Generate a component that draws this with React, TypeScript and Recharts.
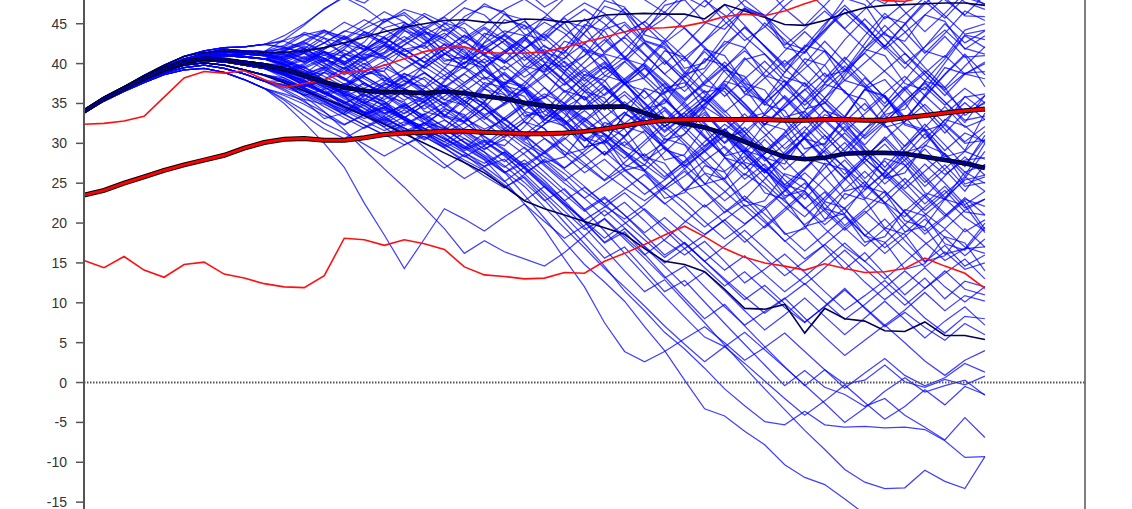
import { LineChart, Line, XAxis, YAxis, ReferenceLine } from "recharts";

// forecast step index (x) and y ticks
const periods = [
  0, 1, 2, 3, 4, 5, 6, 7, 8, 9, 10, 11, 12, 13, 14, 15, 16, 17, 18, 19, 20, 21, 22,
  23, 24, 25, 26, 27, 28, 29, 30, 31, 32, 33, 34, 35, 36, 37, 38, 39, 40, 41, 42, 43,
  44, 45
];
const yTicks = [-15, -10, -5, 0, 5, 10, 15, 20, 25, 30, 35, 40, 45];

// summary lines
const navyMedian = [34.0,35.6,36.9,38.2,39.3,40.2,40.6,40.5,40.1,39.8,39.3,38.5,37.7,37.0,36.6,36.4,36.4,36.3,36.5,36.3,35.9,35.6,35.1,34.7,34.5,34.5,34.6,34.6,33.8,33.0,32.5,32.0,31.2,30.2,29.2,28.3,28.0,28.2,28.7,28.8,28.8,28.7,28.3,27.9,27.5,26.9];
const navyUpper = [34.2,35.8,37.1,38.5,39.8,40.9,41.4,41.6,41.5,41.4,41.4,41.6,42.0,42.6,43.3,44.0,44.6,45.0,45.4,45.5,45.2,45.1,45.6,45.5,45.2,45.4,46.1,46.2,46.3,46.2,46.2,45.6,47.4,46.6,45.8,44.9,44.8,45.4,46.3,47.0,47.3,47.4,47.5,47.6,47.6,47.3];
const navyLower = [33.8,35.4,36.7,37.9,39.0,39.8,40.1,39.8,39.2,38.5,37.6,36.6,35.6,34.6,33.5,32.4,31.2,30.0,28.8,27.6,26.3,24.6,22.8,21.8,21.0,20.2,19.4,18.6,16.8,15.2,14.8,13.9,11.7,9.3,9.2,9.8,6.2,9.3,8.0,7.7,6.5,6.4,7.6,5.9,5.9,5.4];
const redMean = [23.5,24.1,25.0,25.8,26.6,27.3,27.9,28.5,29.4,30.1,30.5,30.6,30.4,30.4,30.7,31.1,31.3,31.4,31.5,31.5,31.4,31.3,31.2,31.2,31.3,31.5,31.8,32.2,32.6,32.9,33.0,33.0,33.0,33.0,33.0,32.9,32.9,33.0,33.0,32.9,32.9,33.2,33.5,33.8,34.1,34.3];
const redUpper = [32.4,32.5,32.8,33.4,35.8,38.2,39.0,38.8,39.1,38.0,37.0,37.5,37.9,38.9,39.1,39.8,40.6,41.5,42.0,42.1,41.4,41.3,41.3,41.5,42.0,42.7,43.3,44.0,44.4,44.5,44.7,45.2,45.9,46.2,46.0,46.6,47.5,48.3,48.8,48.5,47.9,47.8,48.4,49.0,49.5,50.0];
const redLower = [15.3,14.4,15.8,14.1,13.2,14.8,15.1,13.6,13.1,12.4,12.0,11.9,13.4,18.1,17.9,17.2,17.9,17.4,16.7,14.5,13.5,13.3,13.0,13.1,13.8,13.7,15.2,16.2,17.3,18.5,19.6,18.3,16.8,15.7,15.0,14.6,14.1,14.9,14.3,13.8,13.9,14.3,15.6,14.6,13.7,11.8];

// simulated paths
const highPaths = [
  [34.2,35.8,37.1,38.5,39.8,40.9,41.6,42.0,42.1,42.4,43.5,45.0,46.8,48.5,47.6,49.5,51.0,50.2,52.4,53.8,52.0,50.6,52.5,54.8,53.6,51.9,53.4,55.2,54.0,52.3,50.9,53.1,55.4,54.2,52.5,50.8,52.9,54.6,53.2,51.4,53.8,55.6,54.1,52.7,54.3,52.0],
  [34.0,35.6,37.0,38.3,39.5,40.5,41.3,41.8,41.6,41.5,43.0,44.8,46.9,48.3,47.0,45.2,46.4,44.5,45.9,47.8,49.6,51.0,49.2,47.1,48.5,50.7,52.0,50.1,48.0,46.4,48.9,51.5,49.8,47.2,45.9,48.1,50.6,52.8,51.0,48.7,47.5,49.9,52.2,50.4,48.6,50.1],
  [34.1,35.7,37.0,38.4,39.6,40.6,41.2,41.4,41.3,41.2,42.0,41.3,42.6,44.1,43.5,45.2,46.8,46.0,44.1,45.3,47.5,46.2,44.3,45.8,48.2,50.1,48.9,46.5,44.0,45.7,48.4,47.1,49.5,51.8,49.6,46.9,44.8,47.3,50.0,48.2,45.6,47.7,50.3,48.0,46.1,48.6],
  [34.0,35.6,36.8,38.1,39.3,40.3,40.9,41.1,41.2,41.0,41.6,42.9,44.2,43.1,44.8,46.5,45.2,43.6,44.9,47.0,46.1,43.8,41.9,43.4,45.9,47.6,46.3,43.9,45.2,47.8,50.0,48.1,45.3,42.9,44.6,47.2,49.3,47.0,44.4,46.8,49.1,46.5,44.0,46.3,48.9,47.4],
  [34.2,35.8,37.1,38.5,39.8,40.9,41.6,42.0,42.1,42.4,42.8,41.9,43.5,45.2,44.0,42.6,44.4,46.3,45.1,43.2,44.9,46.8,48.1,46.4,44.3,42.5,44.6,46.9,44.8,42.4,40.3,42.9,45.7,48.0,46.0,43.6,41.4,44.0,46.9,44.6,42.2,45.0,47.8,45.7,48.3,47.5],
  [34.1,35.7,37.0,38.4,39.6,40.6,41.2,41.4,41.3,41.2,40.8,41.9,40.5,42.1,43.7,42.4,44.3,45.9,44.6,42.8,41.1,42.9,44.8,43.2,45.1,46.8,45.0,42.6,40.3,42.9,45.6,47.9,46.1,43.4,41.2,38.9,41.5,44.3,46.9,44.8,42.1,44.9,47.5,49.6,47.7,46.8],
  [34.1,35.6,36.9,38.2,39.4,40.4,41.0,41.2,40.9,40.6,41.2,40.1,41.8,43.5,42.2,40.6,42.4,44.0,42.8,41.1,39.6,41.5,43.4,45.2,43.8,41.5,39.3,41.6,44.3,46.5,44.4,41.9,39.5,42.0,45.1,43.0,40.1,37.6,40.4,43.5,46.3,44.0,41.3,43.8,46.6,45.4],
  [34.1,35.7,36.9,38.3,39.4,40.4,40.9,41.0,40.8,40.6,40.1,41.3,40.0,38.8,40.5,42.3,41.1,39.4,41.2,43.0,44.6,43.0,41.3,39.2,41.5,43.9,46.0,43.9,41.2,38.7,36.5,39.0,42.0,44.6,42.2,39.6,42.1,45.0,47.3,44.9,42.0,39.4,42.1,45.0,42.6,44.1],
  [34.0,35.6,36.8,38.1,39.3,40.3,40.9,41.1,41.2,41.0,41.5,42.6,41.3,39.9,41.6,43.4,44.8,43.5,41.7,40.0,41.8,43.6,42.0,40.1,37.9,40.2,42.6,44.9,42.5,39.9,42.4,45.0,47.4,44.8,42.1,39.4,37.1,39.8,43.0,45.6,43.1,40.2,37.8,40.6,43.6,43.0],
  [34.0,35.6,36.9,38.2,39.3,40.2,40.7,40.6,40.3,40.0,39.6,40.7,39.3,37.9,39.6,41.2,42.8,41.3,39.5,37.6,39.4,41.3,43.2,41.2,43.4,45.6,43.3,40.9,38.5,36.2,38.8,41.5,39.0,36.4,38.9,41.6,44.0,41.7,39.0,41.9,44.8,42.3,39.5,37.0,39.7,42.1],
  [34.0,35.5,36.8,38.1,39.2,40.0,40.4,40.2,39.8,39.4,39.0,38.1,39.4,40.9,39.5,37.8,39.3,40.8,39.1,37.2,35.3,37.4,39.7,41.8,39.6,37.3,35.1,37.6,40.1,42.6,44.5,42.1,39.5,37.1,34.8,37.4,40.0,42.8,40.2,37.5,35.0,37.9,40.9,43.4,40.8,41.0],
  [34.0,35.6,37.0,38.3,39.5,40.5,41.3,41.8,41.6,41.5,41.8,42.7,41.5,40.2,41.7,43.2,41.8,40.1,41.8,43.6,42.0,40.1,41.9,43.9,45.7,43.6,41.5,43.4,45.3,43.1,40.8,42.8,44.9,47.0,44.7,42.3,44.4,46.6,44.3,41.9,44.0,46.2,48.3,46.0,43.7,44.2],
  [34.0,35.5,36.8,38.1,39.2,40.0,40.4,40.2,39.8,39.4,38.6,37.5,36.4,35.0,36.3,37.7,36.0,34.3,35.9,37.6,39.4,37.5,39.3,41.2,39.1,37.0,38.9,40.8,42.7,40.5,38.3,40.3,42.4,44.5,42.2,39.9,42.0,44.2,46.4,44.1,41.8,43.9,46.1,48.3,46.0,45.9],
  [34.1,35.7,37.0,38.4,39.6,40.6,41.2,41.4,41.3,41.2,40.7,41.8,40.7,39.3,40.7,42.2,40.6,38.9,37.1,38.8,40.6,38.6,36.6,38.4,40.3,38.2,36.0,37.9,39.8,37.6,35.4,37.4,39.5,41.6,39.3,37.0,34.8,36.9,39.1,41.3,39.0,36.7,38.8,41.0,38.7,38.1]
];

const midPaths = [
  [34.1,35.7,36.9,38.3,39.4,40.4,40.9,41.0,40.8,40.6,40.0,39.2,38.0,39.5,38.1,36.7,38.3,39.8,41.3,39.5,37.4,35.6,37.6,39.9,37.8,35.5,37.8,40.2,42.6,40.3,37.8,35.2,37.9,40.7,38.3,35.6,33.0,35.7,38.8,41.4,43.9,41.3,38.6,36.0,38.7,40.0],
  [33.9,35.5,36.7,37.9,39.1,40.0,40.5,40.4,40.0,39.5,38.8,37.6,38.9,37.4,35.9,37.3,38.8,37.2,35.4,37.3,39.2,37.1,35.0,32.9,35.1,37.4,39.6,37.4,35.1,32.8,35.2,37.8,40.2,37.9,35.3,32.8,35.4,38.1,40.8,38.4,35.7,33.1,35.9,38.7,41.2,38.6],
  [33.9,35.5,36.8,38.0,39.0,39.8,40.1,39.8,39.2,38.6,37.9,37.0,35.8,37.0,38.4,37.0,35.4,36.9,38.5,36.7,34.8,32.9,34.9,37.0,35.0,32.9,35.1,37.4,39.5,37.2,34.8,32.4,30.1,32.7,35.4,37.9,35.5,32.8,35.4,38.2,35.8,33.0,35.8,38.6,41.0,37.1],
  [34.0,35.6,36.9,38.2,39.3,40.2,40.7,40.6,40.3,40.0,39.1,38.2,37.0,35.9,36.9,38.2,36.7,35.1,33.5,35.3,37.1,38.9,36.8,34.6,32.5,34.6,36.9,34.6,32.2,30.0,32.4,34.9,37.3,34.9,32.3,34.9,37.6,35.1,32.4,29.8,32.5,35.2,37.7,35.2,32.6,36.0],
  [34.0,35.5,36.8,38.1,39.2,40.0,40.4,40.2,39.8,39.4,38.5,37.4,36.3,35.0,36.2,34.7,33.2,34.8,36.4,34.6,32.6,30.7,32.8,35.0,32.9,30.7,28.6,30.9,33.3,35.6,33.2,30.8,28.5,31.0,33.6,36.0,33.6,31.0,28.4,31.1,33.9,36.7,34.0,31.3,33.9,35.0],
  [34.1,35.6,36.9,38.2,39.4,40.4,41.0,41.2,40.9,40.6,39.8,38.7,39.6,38.2,36.9,35.5,36.8,38.3,36.7,34.9,33.0,35.0,37.1,35.0,32.8,30.7,28.6,30.8,33.1,35.4,33.1,30.7,28.3,26.0,28.7,31.4,34.0,31.6,29.0,31.7,34.5,37.1,34.5,31.8,29.1,33.8],
  [33.9,35.5,36.8,38.0,39.0,39.8,40.1,39.8,39.2,38.6,37.6,36.3,35.2,33.9,35.0,36.4,34.9,33.3,31.6,33.4,35.2,33.1,31.0,28.9,31.0,33.2,31.0,28.8,26.6,28.9,31.2,33.6,31.2,28.8,26.3,28.9,31.6,34.2,31.7,29.1,26.5,29.2,32.0,34.6,32.0,33.0],
  [33.9,35.4,36.6,37.8,38.8,39.5,39.8,39.4,38.7,37.8,37.0,36.1,34.6,33.2,31.9,33.1,34.6,33.0,31.2,29.4,31.3,33.2,31.1,29.0,26.9,29.0,31.2,29.0,26.7,24.5,26.8,29.1,31.5,29.1,26.6,24.1,26.8,29.5,32.1,29.6,27.0,29.7,32.4,29.8,27.1,31.0],
  [33.9,35.5,36.7,37.9,39.1,40.0,40.5,40.4,40.0,39.5,38.6,37.4,36.5,35.1,33.7,32.5,33.8,35.3,33.6,31.7,29.8,31.8,33.9,31.8,29.6,27.5,25.4,27.6,29.9,32.2,29.9,27.5,25.2,22.9,25.5,28.2,30.7,28.2,25.6,23.0,25.7,28.5,31.2,28.6,25.9,30.0],
  [34.1,35.7,36.9,38.3,39.4,40.4,40.9,41.0,40.8,40.6,39.9,39.0,37.6,36.4,37.5,36.1,34.6,33.0,34.6,36.2,34.4,32.4,30.4,32.4,34.6,32.4,30.3,28.1,30.3,32.6,30.3,27.9,25.5,27.9,30.5,27.9,25.3,22.8,25.4,28.1,30.8,28.2,25.5,22.9,25.6,29.0],
  [34.0,35.5,36.8,38.1,39.2,40.0,40.4,40.2,39.8,39.4,38.7,37.9,36.8,37.4,38.6,39.5,38.2,36.4,34.9,33.1,31.8,32.9,34.7,36.2,35.0,33.1,31.2,29.6,28.4,30.1,32.5,34.6,33.0,30.8,28.1,26.0,24.3,26.9,29.4,31.8,33.5,31.0,28.2,26.1,27.9,28.2],
  [34.0,35.6,36.9,38.2,39.3,40.2,40.7,40.6,40.3,40.0,39.4,38.6,37.2,36.5,35.1,33.8,34.7,36.0,37.3,36.1,34.5,32.0,30.2,28.7,30.5,32.8,31.1,29.0,27.3,25.5,27.8,30.2,32.4,30.6,28.1,25.4,23.0,25.6,27.9,25.2,22.6,20.8,23.3,25.9,28.3,26.0],
  [34.0,35.6,36.8,38.1,39.3,40.3,40.9,41.1,41.2,41.0,40.4,39.6,40.7,39.3,37.6,36.2,37.5,38.9,37.1,35.3,33.6,34.8,36.5,34.2,32.0,30.3,31.7,33.9,32.0,29.6,27.5,29.4,31.8,29.3,26.6,24.4,26.7,29.1,27.0,24.8,22.5,24.9,27.4,25.0,22.3,24.0],
  [33.9,35.5,36.8,38.0,39.0,39.8,40.1,39.8,39.2,38.6,37.9,36.8,35.6,34.4,33.5,34.6,33.2,31.5,30.2,31.9,33.4,31.7,29.9,28.3,26.9,28.6,30.4,28.7,26.5,24.2,25.9,27.8,29.6,27.3,25.0,22.7,20.8,23.2,25.7,28.1,26.0,23.6,21.2,19.3,21.6,23.0],
  [33.9,35.4,36.6,37.8,38.8,39.5,39.8,39.4,38.7,37.8,36.8,35.5,34.9,33.6,32.3,31.0,32.4,33.7,32.0,30.1,28.5,27.0,28.8,30.6,29.0,27.2,25.3,26.9,28.7,26.4,24.1,22.0,23.9,26.2,24.5,22.1,19.8,21.7,24.2,26.5,24.0,21.4,19.0,20.9,23.2,21.0],
  [33.9,35.5,36.7,37.9,39.1,40.0,40.5,40.4,40.0,39.5,38.7,37.8,36.4,35.0,33.9,32.4,31.0,32.5,34.1,32.6,30.8,29.1,27.3,28.9,30.7,28.5,26.2,24.4,22.8,24.6,26.5,24.1,21.8,19.9,21.7,24.0,26.3,24.1,21.7,19.2,16.9,18.8,21.0,23.1,20.7,19.0],
  [34.1,35.7,37.0,38.4,39.6,40.6,41.2,41.4,41.3,41.2,40.6,39.4,40.5,39.0,37.6,36.0,37.4,38.8,37.1,35.3,33.4,35.1,36.9,34.8,32.6,30.4,32.1,33.9,31.7,29.4,27.2,29.1,31.1,28.8,26.5,28.6,30.8,33.0,30.7,28.3,30.5,32.7,34.9,32.5,30.2,32.1],
  [34.0,35.6,37.0,38.3,39.5,40.5,41.3,41.8,41.6,41.5,41.1,40.2,41.5,40.0,38.4,36.9,38.4,36.6,34.8,36.5,38.3,36.2,34.1,35.9,33.7,31.5,33.3,35.2,33.0,30.8,32.7,34.8,36.9,34.6,32.3,34.5,36.7,38.8,36.5,34.1,36.3,38.4,36.0,33.7,35.8,36.2],
  [34.2,35.8,37.1,38.5,39.8,40.9,41.6,42.0,42.1,42.4,42.0,41.4,40.1,38.6,40.0,38.4,36.9,35.3,36.9,38.7,36.9,35.0,36.8,38.7,36.6,34.4,36.2,38.1,40.0,37.8,35.6,37.6,39.7,37.4,35.1,37.2,39.4,41.6,39.3,37.0,39.1,41.3,39.0,36.7,38.8,39.0],
  [34.0,35.6,36.9,38.2,39.3,40.2,40.7,40.6,40.3,40.0,39.4,38.7,37.5,36.2,37.6,36.0,34.3,35.7,37.2,35.3,33.3,31.4,33.1,35.0,32.9,30.7,28.5,30.2,28.0,25.8,27.7,29.7,31.8,29.5,27.1,24.8,26.9,29.1,31.3,28.9,26.6,24.3,26.5,28.7,26.4,27.3],
  [34.0,35.5,36.8,38.1,39.2,40.0,40.4,40.2,39.8,39.4,38.9,38.3,39.2,38.0,36.6,35.2,33.7,35.2,36.8,35.0,36.9,38.7,36.6,34.5,32.3,34.1,32.0,29.7,31.6,29.4,27.1,28.9,30.9,28.7,26.3,28.4,30.6,32.8,30.5,28.1,25.8,27.9,30.1,32.3,30.0,30.4],
  [33.9,35.5,36.7,37.9,39.1,40.0,40.5,40.4,40.0,39.5,38.9,37.6,36.2,37.5,36.1,34.6,33.0,31.4,29.7,31.4,29.6,27.7,29.5,27.4,25.3,27.1,29.0,26.8,24.6,22.4,24.2,26.2,24.0,21.7,19.4,21.5,23.7,21.4,19.1,21.2,23.4,25.6,23.3,20.9,23.0,22.1],
  [34.1,35.7,36.9,38.3,39.4,40.4,40.9,41.0,40.8,40.6,40.2,39.5,38.4,37.1,38.5,39.9,38.3,36.6,35.0,36.7,34.9,33.0,31.1,32.9,34.8,32.7,34.6,36.5,34.3,32.1,33.9,35.9,33.6,31.4,29.1,31.2,33.4,35.6,33.3,30.9,33.1,35.3,37.5,35.2,32.9,33.4],
  [33.9,35.4,36.6,37.8,38.8,39.5,39.8,39.4,38.7,37.8,37.2,36.5,35.4,34.1,35.3,33.8,32.2,33.6,35.1,33.3,31.4,33.2,35.1,33.0,34.9,36.9,34.7,32.5,34.4,36.4,38.5,36.2,33.9,36.0,38.2,40.4,38.1,35.7,37.9,40.1,42.3,40.0,42.1,44.2,41.9,41.2],
  [34.1,35.6,36.9,38.2,39.4,40.4,41.0,41.2,40.9,40.6,39.9,38.8,37.6,36.3,35.0,36.4,37.9,36.2,34.5,32.7,34.4,32.5,30.6,32.4,34.3,32.2,30.0,31.9,33.8,31.6,33.5,35.5,33.2,31.0,28.7,30.8,33.0,35.2,32.9,30.6,32.7,34.9,37.1,34.8,36.9,35.1]
];

const lowPaths = [
  [33.8,35.3,36.5,37.6,38.6,39.2,39.4,38.9,38.0,36.9,35.6,34.1,32.5,31.3,29.9,28.4,29.8,31.2,29.5,27.6,25.9,24.4,26.1,28.0,26.2,24.0,22.1,20.5,22.3,24.5,22.6,20.2,18.0,19.8,22.0,24.1,21.9,19.3,17.0,15.2,17.5,19.8,17.6,15.3,16.8,17.0],
  [33.9,35.4,36.6,37.8,38.8,39.5,39.8,39.4,38.7,37.8,36.6,35.2,33.9,32.4,33.6,35.0,33.3,31.4,29.8,28.3,29.7,31.3,29.4,27.2,25.0,23.1,24.8,26.6,24.7,22.5,20.3,18.6,20.4,22.3,20.1,17.8,15.5,17.3,19.4,21.5,19.2,16.7,14.5,16.4,14.2,15.0],
  [33.8,35.3,36.5,37.6,38.6,39.2,39.4,38.9,38.0,36.9,35.4,33.5,31.8,30.6,32.0,33.4,31.6,29.5,27.4,25.6,27.1,28.9,26.8,24.5,22.3,20.4,22.0,23.8,21.6,19.2,16.8,18.5,20.4,18.1,15.7,13.4,15.2,17.3,15.1,12.6,10.4,12.3,14.4,12.0,10.1,12.0],
  [33.8,35.3,36.5,37.6,38.6,39.2,39.4,38.9,38.0,36.9,35.0,32.6,30.0,27.0,22.5,18.5,14.3,18.0,21.8,20.5,19.0,20.8,22.4,20.2,18.1,19.7,21.6,19.4,17.1,15.0,16.8,14.4,12.1,13.9,11.6,9.4,7.5,9.6,11.8,9.3,7.0,8.8,6.9,5.3,7.4,6.0],
  [33.9,35.4,36.6,37.8,38.8,39.5,39.8,39.4,38.7,37.8,37.8,36.9,35.6,34.8,33.5,34.4,33.0,31.8,32.9,31.5,30.2,28.4,26.3,27.8,25.6,23.1,20.9,22.6,20.3,17.8,16.0,17.7,15.2,12.5,14.2,16.1,13.8,11.4,9.1,10.9,12.8,10.5,8.1,6.2,8.3,8.0],
  [33.9,35.5,36.8,38.0,39.0,39.8,40.1,39.8,39.2,38.6,38.2,37.0,35.9,34.6,33.4,32.1,33.3,31.9,30.6,29.3,30.4,28.6,26.2,23.8,21.5,19.2,20.5,18.0,15.6,13.1,14.6,12.0,9.5,7.2,8.9,10.6,8.1,5.7,3.4,5.3,7.2,5.0,2.7,0.9,2.8,4.0],
  [33.9,35.5,36.7,37.9,39.1,40.0,40.5,40.4,40.0,39.5,38.9,37.8,36.5,35.3,34.0,32.8,31.5,32.6,31.2,29.7,28.3,26.5,24.6,22.0,19.4,16.9,14.3,12.0,9.6,7.1,4.8,2.6,4.5,2.4,0.2,-2.0,-4.1,-2.3,-0.3,-2.5,-4.6,-3.0,-0.9,-2.8,-0.5,-1.5],
  [34.0,35.5,36.8,38.1,39.2,40.0,40.4,40.2,39.8,39.4,38.2,36.9,35.4,33.6,34.8,33.0,31.9,30.8,29.5,30.6,28.9,26.4,23.5,20.6,17.6,14.8,12.6,10.2,7.0,4.0,0.3,-3.3,-4.2,-6.1,-7.8,-10.3,-11.9,-12.8,-14.6,-16.5,-18.0,-17.2,-19.0,-18.1,-19.5,-18.8],
  [33.9,35.5,36.8,38.0,39.0,39.8,40.1,39.8,39.2,38.6,37.8,36.6,35.2,34.1,32.8,31.6,32.7,31.3,29.9,28.4,27.1,28.0,25.6,22.9,20.1,17.4,14.6,11.5,9.0,6.3,4.2,1.8,-0.8,-2.9,-4.9,-5.3,-3.6,-5.3,-5.6,-5.5,-5.7,-5.6,-5.9,-7.3,-9.4,-9.3],
  [33.9,35.4,36.6,37.8,38.8,39.5,39.8,39.4,38.7,37.8,37.4,36.1,35.0,33.7,32.3,31.1,29.8,30.9,29.4,27.9,26.6,24.5,25.8,23.4,20.9,18.3,15.6,17.0,14.2,11.4,12.8,10.1,7.4,4.8,2.2,-0.4,1.5,-0.6,-1.5,-3.0,-2.0,-4.1,-5.6,-7.2,-4.4,-6.9],
  [33.9,35.5,36.7,37.9,39.1,40.0,40.5,40.4,40.0,39.5,38.9,37.7,36.5,35.2,33.9,32.6,31.3,32.5,31.1,29.6,28.0,26.3,27.5,25.3,22.8,20.2,17.5,18.9,16.1,13.3,10.6,8.0,9.8,7.1,4.5,2.0,-0.4,1.6,-0.2,0.3,2.2,0.1,-0.6,0.4,-0.3,0.8],
  [34.0,35.6,36.9,38.2,39.3,40.2,40.7,40.6,40.3,40.0,39.5,38.3,37.0,35.6,34.4,33.1,31.9,30.6,31.7,30.2,28.9,27.2,25.1,22.8,24.3,21.7,19.0,16.2,13.5,10.8,8.2,5.7,4.5,6.3,4.1,1.9,-0.3,-2.6,-5.0,-3.2,-1.1,0.6,-1.2,-0.4,0.3,-1.6],
  [34.0,35.5,36.8,38.1,39.2,40.0,40.4,40.2,39.8,39.4,38.5,37.3,36.2,35.0,33.8,34.6,33.3,31.9,30.6,29.4,27.9,25.3,22.4,19.2,15.5,12.0,7.5,3.9,2.6,3.9,5.5,7.0,5.0,2.8,4.4,6.2,3.9,1.6,-0.7,1.2,3.0,0.9,-0.4,0.6,2.4,1.3],
  [34.1,35.6,36.9,38.2,39.4,40.4,41.0,41.2,40.9,40.6,39.6,38.5,37.3,36.2,35.0,33.7,34.8,33.5,32.1,30.6,29.3,30.5,28.6,26.4,24.1,21.7,23.3,21.0,18.5,16.0,17.6,15.2,12.8,10.4,12.2,9.9,7.6,9.5,11.6,9.4,7.2,9.1,11.3,9.0,10.9,10.2],
  [34.0,35.6,36.8,38.1,39.3,40.3,40.9,41.1,41.2,41.0,40.3,39.2,37.7,36.5,35.1,33.5,35.0,33.2,31.3,32.6,30.9,29.3,27.1,25.0,22.8,24.5,22.4,20.1,17.9,15.7,17.5,15.2,13.0,10.8,8.7,10.5,12.4,10.1,7.9,9.8,11.9,14.0,11.8,13.7,15.5,13.0],
  [34.1,35.7,36.9,38.3,39.4,40.4,40.9,41.0,40.8,40.6,39.8,38.9,37.4,36.0,34.7,33.3,31.9,30.4,31.9,30.1,28.2,26.3,27.9,25.8,23.6,21.5,23.1,21.0,18.8,20.7,18.5,16.3,14.1,15.9,13.6,11.4,13.3,15.4,17.5,15.2,13.0,15.1,17.3,19.2,17.0,16.2],
  [33.9,35.5,36.8,38.0,39.0,39.8,40.1,39.8,39.2,38.6,37.6,35.9,34.0,31.7,29.2,26.8,24.5,21.9,19.3,16.2,17.8,16.4,15.5,14.6,16.3,18.4,20.6,18.3,16.0,17.9,20.1,22.3,20.0,17.6,19.6,21.8,24.0,21.7,19.4,17.1,19.3,21.5,23.6,21.2,18.9,20.4],
  [34.1,35.6,36.9,38.2,39.4,40.4,41.0,41.2,40.9,40.6,39.9,38.6,39.5,38.1,36.6,35.0,33.2,34.8,33.0,31.1,29.2,30.9,32.7,30.6,28.5,26.3,28.0,25.8,23.6,25.4,27.3,25.0,22.8,24.7,26.8,24.4,22.0,19.8,21.9,24.1,26.3,24.0,21.6,23.7,25.8,24.0],
  [34.0,35.6,36.9,38.2,39.3,40.2,40.7,40.6,40.3,40.0,39.3,38.4,37.1,35.8,34.3,32.8,34.2,32.5,30.8,28.9,27.1,25.2,27.0,28.8,26.7,24.6,22.4,24.2,26.1,23.9,21.7,19.5,21.4,23.4,21.1,18.8,16.5,18.6,20.8,18.5,16.2,18.3,20.5,18.2,15.9,18.0],
  [33.8,35.3,36.5,37.6,38.6,39.2,39.4,38.9,38.0,36.9,36.0,34.9,33.5,32.3,33.6,32.0,30.3,28.6,26.9,28.6,26.7,24.8,22.8,24.6,22.5,20.3,18.1,19.9,21.8,19.6,17.4,15.2,17.1,19.1,16.8,14.5,12.3,14.4,16.6,14.3,12.0,9.7,11.8,14.0,11.7,11.0],
  [33.9,35.5,36.8,38.0,39.0,39.8,40.1,39.8,39.2,38.6,38.0,36.8,35.6,34.3,33.1,34.2,32.9,31.5,30.2,28.8,27.5,28.9,27.0,24.8,22.5,20.1,17.6,19.3,17.0,14.6,12.1,13.9,11.5,9.0,6.6,8.5,10.6,8.3,6.0,8.1,10.2,7.9,5.6,7.7,9.5,7.2],
  [34.0,35.6,36.8,38.1,39.3,40.3,40.9,41.1,41.2,41.0,40.3,39.2,38.0,36.7,35.4,34.3,33.0,31.8,30.5,29.1,30.2,28.7,26.9,24.6,22.2,19.5,16.8,14.0,11.4,12.9,10.2,7.5,4.7,1.9,-0.8,-3.4,-6.0,-8.4,-10.9,-12.5,-13.3,-13.2,-11.0,-12.4,-13.3,-9.3]
];

const fadingPaths = [
  [34.0,35.6,37.0,38.3,39.5,40.5,41.3,41.8,41.6,41.5,41.9,42.8,43.9,43.0,44.4,45.6,44.2,42.5,43.8,42.0,40.1,41.6,39.4,37.0,34.5,35.9,33.3,30.6,27.8,29.5,26.8,24.0,21.3,23.0,20.4,17.7,19.6,16.9,14.2,16.3,13.6,11.0,13.1,10.5,12.7,12.0],
  [34.2,35.8,37.1,38.5,39.8,40.9,41.6,42.0,42.1,42.4,42.9,43.7,42.6,44.0,45.5,44.3,42.8,44.2,45.8,44.0,42.1,43.7,45.3,43.2,41.0,38.5,40.2,37.6,34.9,32.1,33.8,31.0,28.2,25.5,27.4,24.6,21.8,23.9,21.1,18.4,20.5,17.8,15.1,17.2,14.6,16.0],
  [34.1,35.7,37.0,38.4,39.6,40.6,41.2,41.4,41.3,41.2,41.5,40.7,42.0,43.3,42.1,40.8,42.3,43.9,42.4,40.6,42.2,40.4,38.3,39.9,37.7,35.4,37.2,34.8,32.3,34.1,31.6,29.0,26.5,28.4,25.8,23.1,25.0,22.4,19.7,21.8,24.0,21.3,18.6,20.7,22.8,19.2],
  [34.1,35.6,36.9,38.2,39.4,40.4,41.0,41.2,40.9,40.6,40.9,41.8,40.6,39.4,40.9,42.4,41.0,39.5,41.1,42.7,41.0,39.2,40.9,38.7,36.4,38.2,40.0,37.6,35.1,32.6,34.5,32.0,29.4,26.8,28.8,31.0,28.4,25.7,23.0,25.2,22.5,19.8,22.0,24.1,21.4,21.0],
  [34.0,35.6,36.8,38.1,39.3,40.3,40.9,41.1,41.2,41.0,41.3,40.2,41.4,40.1,41.6,43.0,44.5,43.0,41.3,39.5,41.2,42.9,41.0,38.9,40.7,42.5,40.3,38.0,35.6,37.5,35.1,32.6,30.0,32.0,29.4,26.7,28.8,31.0,28.3,25.6,27.8,25.1,22.4,24.6,21.9,23.0],
  [34.1,35.7,36.9,38.3,39.4,40.4,40.9,41.0,40.8,40.6,40.4,41.4,42.6,41.3,39.9,41.4,43.0,44.6,43.1,41.4,39.6,41.3,43.0,41.0,38.8,36.5,38.4,40.3,38.0,35.6,33.1,35.0,37.0,34.5,31.9,29.3,31.4,28.8,26.1,28.3,30.5,27.8,25.1,27.3,24.6,25.1],
  [34.0,35.6,36.9,38.2,39.3,40.2,40.7,40.6,40.3,40.0,39.8,40.9,39.7,41.0,42.2,40.9,39.4,40.9,42.4,40.8,39.1,37.3,39.0,40.8,38.7,36.5,34.2,36.1,33.8,31.4,33.4,35.5,33.0,30.4,27.8,29.9,32.1,29.5,26.9,24.2,26.4,28.6,25.9,23.2,25.4,26.0],
  [33.9,35.5,36.7,37.9,39.1,40.0,40.5,40.4,40.0,39.5,39.7,40.4,41.5,40.3,38.9,40.3,41.8,40.2,38.5,40.1,41.8,43.5,41.6,39.5,37.3,39.1,37.0,34.7,36.6,34.3,31.9,33.9,31.4,28.9,30.9,33.1,30.5,27.9,30.1,27.5,24.9,27.1,29.3,26.7,24.0,27.4],
  [34.0,35.5,36.8,38.1,39.2,40.0,40.4,40.2,39.8,39.4,39.2,40.0,41.1,39.9,41.3,42.7,41.2,39.6,38.0,39.6,38.0,39.7,37.8,35.7,37.5,39.4,37.2,34.9,32.5,34.5,32.1,29.6,31.6,33.7,31.2,28.6,30.7,28.1,25.5,27.7,29.9,27.3,24.6,26.8,29.0,28.0],
  [34.0,35.6,37.0,38.3,39.5,40.5,41.3,41.8,41.6,41.5,41.0,42.2,41.0,42.4,43.9,42.6,41.0,42.6,44.3,42.6,44.4,42.5,40.4,42.3,40.1,37.8,39.7,37.4,39.4,37.0,34.5,36.6,34.1,31.5,33.6,35.8,33.2,30.5,32.7,35.0,32.3,29.6,31.8,29.1,31.3,30.2],
  [34.1,35.7,37.0,38.4,39.6,40.6,41.2,41.4,41.3,41.2,40.6,41.6,40.3,41.7,40.4,41.9,43.4,41.9,43.5,45.1,43.4,41.6,43.4,41.3,39.1,41.0,43.0,40.7,38.3,40.3,37.9,35.4,37.5,35.0,32.4,34.6,36.8,34.2,31.5,33.7,36.0,33.3,30.6,32.9,35.1,33.0],
  [34.0,35.6,36.8,38.1,39.3,40.3,40.9,41.1,41.2,41.0,41.6,40.5,41.8,43.1,41.8,43.3,41.8,40.2,41.8,43.5,41.8,40.0,41.8,43.7,41.6,39.4,41.3,43.3,41.1,38.7,40.8,38.4,35.9,38.1,40.3,37.8,35.2,37.5,39.7,37.2,34.6,36.9,39.1,36.5,33.9,36.0]
];

const choppyPaths = [
  [34.0,35.6,36.9,38.2,39.3,40.2,40.7,40.6,40.3,40.0,39.2,39.8,41.5,40.9,38.6,39.1,41.8,42.3,40.0,39.4,42.6,44.1,43.5,40.2,39.6,41.0,44.3,45.2,42.8,41.9,39.0,36.4,37.0,40.5,41.2,38.3,37.5,34.1,33.2,36.8,38.0,35.1,31.6,32.4,35.9,34.0],
  [33.9,35.5,36.7,37.9,39.1,40.0,40.5,40.4,40.0,39.5,38.7,38.0,36.2,36.9,39.0,38.4,35.9,35.1,37.7,40.2,39.5,36.8,33.4,34.0,36.6,35.8,32.1,30.9,33.5,36.9,37.6,34.2,30.8,31.5,28.2,27.4,30.9,33.6,32.8,29.1,25.6,26.3,29.8,28.7,24.9,25.8],
  [34.0,35.6,37.0,38.3,39.5,40.5,41.3,41.8,41.6,41.5,42.3,43.9,43.2,41.0,42.7,45.5,46.1,44.0,43.1,45.9,47.2,46.5,43.7,42.9,45.3,44.6,41.2,40.5,43.9,47.3,48.0,45.2,44.3,46.8,45.9,42.0,41.3,44.7,48.2,47.4,43.6,42.8,46.1,45.3,41.8,43.5],
  [34.1,35.7,36.9,38.3,39.4,40.4,40.9,41.0,40.8,40.6,40.1,38.4,38.9,41.2,40.6,37.9,37.2,39.8,42.5,41.7,38.3,37.6,35.0,35.7,38.9,41.8,41.0,37.4,36.6,33.2,32.5,35.8,39.2,38.4,34.9,34.1,30.6,29.8,33.3,36.7,35.9,32.3,31.5,28.0,27.2,30.5],
  [33.9,35.5,36.8,38.0,39.0,39.8,40.1,39.8,39.2,38.6,37.8,37.1,38.9,38.2,35.6,34.9,36.6,36.0,33.3,32.6,34.5,37.2,36.5,33.0,32.2,29.5,30.2,33.6,32.8,29.2,28.4,24.9,25.6,29.1,28.3,24.8,24.0,20.5,21.2,24.6,23.8,20.3,19.5,16.1,16.8,20.0],
  [34.2,35.8,37.1,38.5,39.8,40.9,41.6,42.0,42.1,42.4,42.1,43.6,44.2,42.4,41.8,44.5,45.2,43.1,40.3,40.9,43.8,43.0,39.7,39.0,41.9,44.9,44.1,40.6,39.8,36.4,37.1,40.6,39.8,36.2,35.4,38.9,42.3,41.5,37.9,37.1,33.6,34.3,37.8,37.0,33.5,35.2],
  [34.0,35.5,36.8,38.1,39.2,40.0,40.4,40.2,39.8,39.4,38.9,39.6,37.8,37.1,39.5,39.0,36.2,35.5,37.9,40.8,40.1,36.7,35.9,32.5,33.2,36.5,35.7,32.1,31.3,27.9,28.6,32.0,31.2,27.6,26.8,23.4,24.1,27.5,26.7,23.2,22.4,18.9,19.6,23.0,22.2,18.8],
  [34.1,35.6,36.9,38.2,39.4,40.4,41.0,41.2,40.9,40.6,41.3,42.0,40.2,41.8,44.0,43.3,41.5,42.2,45.1,44.4,41.0,40.3,42.9,45.8,45.1,41.6,40.8,37.5,38.2,41.6,40.8,37.3,36.5,33.1,33.8,37.2,40.6,39.8,36.3,35.5,32.0,32.7,36.1,39.5,38.7,40.2],
  [33.9,35.4,36.6,37.8,38.8,39.5,39.8,39.4,38.7,37.8,37.3,36.0,36.8,34.5,33.8,35.9,35.2,32.6,31.9,34.4,36.8,36.1,32.7,31.9,28.6,29.3,32.6,31.8,28.3,27.5,24.1,24.8,28.2,27.4,23.8,23.0,19.6,20.3,23.7,22.9,19.4,18.6,15.2,15.9,19.3,17.0],
  [34.0,35.6,36.8,38.1,39.3,40.3,40.9,41.1,41.2,41.0,41.7,42.4,44.1,43.4,41.6,42.3,45.0,44.3,41.2,40.5,43.4,46.2,45.5,42.1,41.3,44.6,47.9,47.1,43.6,42.8,39.4,40.1,43.5,46.9,46.1,42.6,41.8,38.4,39.1,42.5,45.9,45.1,41.6,40.8,44.2,45.0],
  [34.0,35.6,36.9,38.2,39.3,40.2,40.7,40.6,40.3,40.0,39.4,38.7,40.5,39.8,37.3,36.6,38.7,38.0,35.5,34.8,37.6,37.0,34.0,33.3,35.8,38.6,37.9,34.5,33.7,30.4,31.1,34.4,37.8,37.0,33.5,32.7,29.3,30.0,33.4,36.8,36.0,32.5,31.7,28.3,29.0,31.5],
  [34.1,35.7,37.0,38.4,39.6,40.6,41.2,41.4,41.3,41.2,40.5,41.3,39.6,38.9,41.2,40.6,37.8,37.1,39.4,42.1,41.4,38.0,37.2,39.9,42.8,42.0,38.5,37.7,34.3,35.0,38.4,41.8,41.0,37.5,36.7,33.3,34.0,37.4,36.6,33.1,32.3,28.9,29.6,33.0,32.2,30.0],
  [33.9,35.5,36.7,37.9,39.1,40.0,40.5,40.4,40.0,39.5,38.9,37.2,37.9,36.1,35.4,37.5,36.8,34.0,33.3,35.8,35.1,31.7,30.9,27.6,28.3,31.6,30.8,27.3,26.5,23.1,23.8,27.2,26.4,22.8,22.0,18.6,19.3,22.7,21.9,18.4,17.6,14.2,14.9,18.3,17.5,14.0],
  [34.1,35.7,36.9,38.3,39.4,40.4,40.9,41.0,40.8,40.6,40.8,41.5,43.2,42.5,40.7,41.4,44.1,43.4,40.6,39.9,42.7,45.5,44.8,41.4,40.6,43.9,47.2,46.4,42.9,42.1,38.7,39.4,42.8,42.0,38.5,37.7,34.3,35.0,38.4,41.8,41.0,37.5,36.7,40.1,43.5,42.0],
  [34.0,35.5,36.8,38.1,39.2,40.0,40.4,40.2,39.8,39.4,38.8,37.1,37.8,36.0,33.7,34.4,36.8,36.1,33.5,32.8,35.2,37.7,37.0,33.6,32.8,29.5,30.2,33.5,36.9,36.1,32.6,31.8,28.4,29.1,32.5,31.7,28.2,27.4,24.0,24.7,28.1,27.3,23.8,23.0,26.4,25.0],
  [33.8,35.3,36.5,37.6,38.6,39.2,39.4,38.9,38.0,36.9,36.2,35.4,33.1,33.8,36.0,35.3,32.9,32.2,34.3,33.6,30.4,29.7,32.1,34.8,34.1,30.7,29.9,26.6,27.3,30.6,29.8,26.3,25.5,22.1,22.8,26.2,25.4,21.8,21.0,17.6,18.3,21.7,20.9,17.4,16.6,19.5]
];

const simPaths = [...highPaths, ...midPaths, ...lowPaths, ...fadingPaths, ...choppyPaths];

const rows = periods.map((x, i) => {
  const row: Record<string, number> = {
    x,
    navyMedian: navyMedian[i],
    navyUpper: navyUpper[i],
    navyLower: navyLower[i],
    redMean: redMean[i],
    redUpper: redUpper[i],
    redLower: redLower[i]
  };
  simPaths.forEach((p, k) => {
    row[`s${k}`] = p[i];
  });
  return row;
});

const tickStyle = { fill: "#333", fontSize: 14, fontFamily: "'Liberation Sans', Arial, sans-serif" };

export default function App() {
  return (
    <div
      style={{
        position: "fixed",
        left: 0,
        top: 0,
        width: 1132,
        height: 509,
        overflow: "hidden",
        background: "#fff"
      }}
    >
      <div style={{ position: "absolute", left: 0, top: -66 }}>
        <LineChart width={1132} height={618} data={rows} margin={{ top: 10, right: 47, bottom: 10, left: 0 }}>
          <XAxis type="number" dataKey="x" domain={[0, 50]} hide />
          <YAxis
            domain={[-20, 55]}
            ticks={yTicks}
            width={84}
            tickSize={8}
            tickMargin={9}
            allowDataOverflow
            tick={tickStyle}
            axisLine={{ stroke: "#555", strokeWidth: 2 }}
            tickLine={{ stroke: "#555", strokeWidth: 1.5 }}
          />
          <ReferenceLine x={50} stroke="#555" strokeWidth={1.5} />
          {simPaths.map((_, k) => (
            <Line
              key={k}
              dataKey={`s${k}`}
              type="linear"
              stroke="#0000ff"
              strokeOpacity={0.75}
              strokeWidth={1.25}
              dot={false}
              activeDot={false}
              isAnimationActive={false}
            />
          ))}
          <ReferenceLine y={0} stroke="#555" strokeWidth={2} strokeDasharray="1.5 1.5" />
          <Line dataKey="navyUpper" type="linear" stroke="#00005a" strokeWidth={1.6} dot={false} activeDot={false} isAnimationActive={false} />
          <Line dataKey="navyLower" type="linear" stroke="#00005a" strokeWidth={1.6} dot={false} activeDot={false} isAnimationActive={false} />
          <Line dataKey="redUpper" type="linear" stroke="#ff1010" strokeWidth={1.6} dot={false} activeDot={false} isAnimationActive={false} />
          <Line dataKey="redLower" type="linear" stroke="#ff1010" strokeWidth={1.6} dot={false} activeDot={false} isAnimationActive={false} />
          <Line dataKey="navyMedian" type="linear" stroke="#000" strokeWidth={4.6} dot={false} activeDot={false} isAnimationActive={false} />
          <Line dataKey="navyMedian" type="linear" stroke="#000090" strokeWidth={2.6} dot={false} activeDot={false} isAnimationActive={false} />
          <Line dataKey="redMean" type="linear" stroke="#000" strokeWidth={5} dot={false} activeDot={false} isAnimationActive={false} />
          <Line dataKey="redMean" type="linear" stroke="#ff0000" strokeWidth={3} dot={false} activeDot={false} isAnimationActive={false} />
        </LineChart>
      </div>
    </div>
  );
}
